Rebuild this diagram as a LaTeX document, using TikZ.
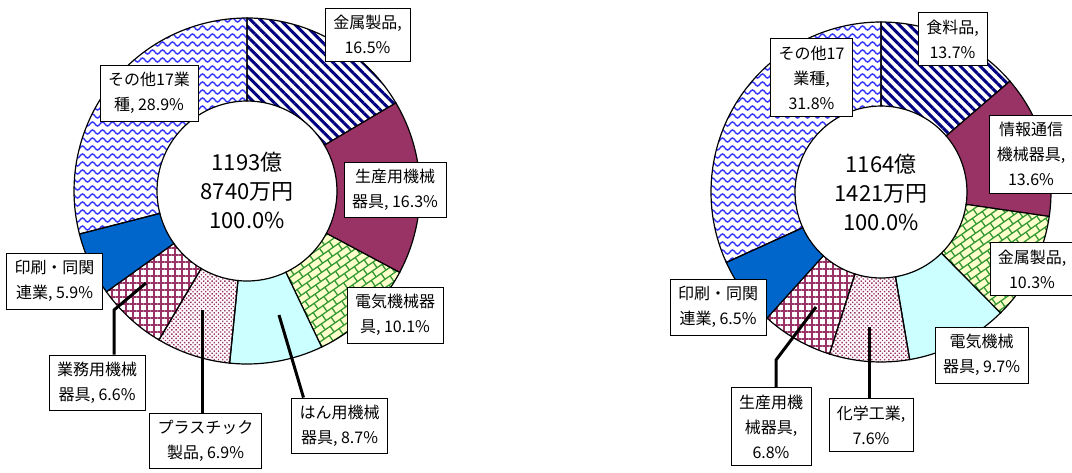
\documentclass[tikz,border=0pt]{standalone}
\usepackage{fontspec}
\setmainfont{Noto Sans CJK JP}
\usetikzlibrary{patterns.meta,calc}
\definecolor{navy}{HTML}{000080}
\definecolor{plum}{HTML}{993366}
\definecolor{brick}{HTML}{339933}
\definecolor{cream}{HTML}{FFFFCC}
\definecolor{aqua}{HTML}{CCFFFF}
\definecolor{royal}{HTML}{0066CC}
\definecolor{wave}{HTML}{3333FF}
\tikzdeclarepattern{
  name=waves, type=uncolored,
  bottom left={(-1pt,-1pt)}, top right={(11pt,9pt)},
  tile size={(10pt,8pt)},
  code={
    \draw[line width=1.4pt] (0pt,4pt) sin (2.5pt,6pt) cos (5pt,4pt)
      sin (7.5pt,2pt) cos (10pt,4pt);
  }
}
\tikzdeclarepattern{
  name=bricks, type=uncolored,
  bottom left={(-1pt,-1pt)}, top right={(13pt,15pt)},
  tile size={(12pt,14pt)},
  tile transformation={rotate=35},
  code={
    \draw[line width=1.3pt] (0pt,0pt) -- (12pt,0pt) (0pt,7pt) -- (12pt,7pt)
      (0pt,0pt) -- (0pt,7pt) (6pt,7pt) -- (6pt,14pt);
  }
}
\begin{document}
\begin{tikzpicture}[x=1pt,y=-1pt]
  \tikzstyle{lbl}=[draw, fill=white, align=center, inner xsep=8pt,
    inner ysep=7pt, font=\fontsize{16}{25}\selectfont]
  \tikzstyle{total}=[align=center, font=\fontsize{22}{29}\selectfont]
  \tikzstyle{leader}=[line width=3pt]
  \tikzstyle{slice}=[draw, line width=1.2pt]
  \tikzstyle{f1}=[pattern={Lines[angle=-45,distance=7pt,line width=3pt]},
    pattern color=navy]
  \tikzstyle{f2}=[fill=plum]
  \tikzstyle{f3}=[preaction={fill=cream}, pattern=bricks, pattern color=brick]
  \tikzstyle{f4}=[fill=aqua]
  \tikzstyle{f5}=[pattern={Dots[angle=45,distance=3pt,radius=1pt]},
    pattern color=plum]
  \tikzstyle{f6}=[pattern={Hatch[angle=0,distance=7pt,line width=2pt]},
    pattern color=plum]
  \tikzstyle{f7}=[fill=royal]
  \tikzstyle{f8}=[pattern=waves, pattern color=wave]
  \useasboundingbox (0,0) rectangle (1072,472);

  % left ring
  \begin{scope}[shift={(247,191)}]
    \foreach \a/\b/\f in {0/16.5/f1,16.5/32.8/f2,32.8/42.9/f3,42.9/51.6/f4,
                          51.6/58.5/f5,58.5/65.1/f6,65.1/71.0/f7,71.0/100/f8}
      \draw[slice,\f] ({-90+3.6*\a}:173)
        arc[start angle=-90+3.6*\a, end angle=-90+3.6*\b, radius=173]
        -- ({-90+3.6*\b}:90)
        arc[start angle=-90+3.6*\b, end angle=-90+3.6*\a, radius=90] -- cycle;
  \end{scope}
  % right ring
  \begin{scope}[shift={(881,192)}]
    \foreach \a/\b/\f in {0/13.7/f1,13.7/27.3/f2,27.3/37.6/f3,37.6/47.3/f4,
                          47.3/54.9/f5,54.9/61.7/f6,61.7/68.2/f7,68.2/100/f8}
      \draw[slice,\f] ({-90+3.6*\a}:170)
        arc[start angle=-90+3.6*\a, end angle=-90+3.6*\b, radius=170]
        -- ({-90+3.6*\b}:86)
        arc[start angle=-90+3.6*\b, end angle=-90+3.6*\a, radius=86] -- cycle;
  \end{scope}

  \node[total] (ltotal) at (247,190) {1193億\\8740万円\\100.0\%};
  \node[total] (rtotal) at (881,192) {1164億\\1421万円\\100.0\%};

  % left labels
  \node[lbl] (kinzoku) at (367.5,34.5) {金属製品,\\16.5\%};
  \node[lbl] (seisan) at (395,189.5) {生産用機械\\器具, 16.3\%};
  \node[lbl] (denki) at (395,315) {電気機械器\\具, 10.1\%};
  \node[lbl] (hanyou) at (339.5,425.5) {はん用機械\\器具, 8.7\%};
  \node[lbl] (plastic) at (205.5,441) {プラスチック\\製品, 6.9\%};
  \node[lbl] (gyomu) at (97,382.5) {業務用機械\\器具, 6.6\%};
  \node[lbl] (insatsu) at (54.5,281) {印刷・同関\\連業, 5.9\%};
  \node[lbl] (sonota) at (149,93) {その他17業\\種, 28.9\%};

  % right labels
  \node[lbl] (shokuryo) at (952.5,39) {食料品,\\13.7\%};
  \node[lbl] (joho) at (1031,154) {情報通信\\機械器具,\\13.6\%};
  \node[lbl] (kinzoku2) at (1032,269) {金属製品,\\10.3\%};
  \node[lbl] (denki2) at (981.5,355) {電気機械\\器具, 9.7\%};
  \node[lbl] (kagaku) at (871,425) {化学工業,\\7.6\%};
  \node[lbl] (seisan2) at (771,426.5) {生産用機\\械器具,\\6.8\%};
  \node[lbl] (insatsu2) at (718,307) {印刷・同関\\連業, 6.5\%};
  \node[lbl] (sonota2) at (811.5,77.5) {その他17\\業種,\\31.8\%};

  % leaders
  \coordinate (hanyou-p) at (279,315);
  \coordinate (plastic-p) at (202,310);
  \coordinate (gyomu-p) at (146,283);
  \coordinate (gyomu-b) at (114,310);
  \coordinate (kagaku-p) at (869,327);
  \coordinate (seisan2-p) at (816,307);
  \coordinate (seisan2-b) at (776,360);
  \draw[leader] (hanyou-p) -- ($(hanyou.north)+(-36,0)$);
  \draw[leader] (plastic-p) -- (plastic-p |- plastic.north);
  \draw[leader] (gyomu-p) -- (gyomu-b) -- (gyomu-b |- gyomu.north);
  \draw[leader] (kagaku-p) -- (kagaku-p |- kagaku.north);
  \draw[leader] (seisan2-p) -- (seisan2-b) -- (seisan2-b |- seisan2.north);
\end{tikzpicture}
\end{document}
